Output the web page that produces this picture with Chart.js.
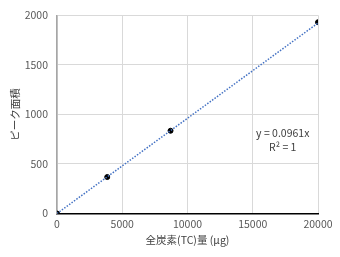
<!DOCTYPE html>
<html>
<head>
<meta charset="utf-8">
<script src="https://cdn.jsdelivr.net/npm/chart.js@4"></script>
<style>
  html, body { margin: 0; padding: 0; background: #fff; }
  #wrap { width: 340px; height: 257px; }
</style>
</head>
<body>
<div id="wrap"><canvas id="chart"></canvas></div>
<script>
// measured samples: carbon amount (µg) vs peak area
const carbonUg = [0, 3850, 8700, 20000]
const peakArea = [0, 368, 835, 1930]

// linear trendline end points (y = 0.0961x)
const trendX = [0, 20000]
const trendY = [0, 1922]

const xTicks = [0, 5000, 10000, 15000, 20000]
const yTicks = [0, 500, 1000, 1500, 2000]

const eqLines = ['y = 0.0961x', 'R² = 1']
const eqAnchor = [17300, 810]

const font = '"Noto Sans CJK JP", "Noto Sans", sans-serif'

const equationLabel = {
  id: 'equationLabel',
  afterDatasetsDraw(chart) {
    const { ctx, scales } = chart
    const x = scales.x.getPixelForValue(eqAnchor[0])
    const y = scales.y.getPixelForValue(eqAnchor[1])
    ctx.save()
    ctx.font = '10.5px ' + font
    ctx.fillStyle = '#404040'
    ctx.textAlign = 'center'
    ctx.textBaseline = 'middle'
    eqLines.forEach((line, i) => ctx.fillText(line, x, y + i * 14))
    ctx.restore()
  }
}

new Chart(document.getElementById('chart'), {
  type: 'scatter',
  data: {
    datasets: [
      {
        type: 'line',
        label: 'trend',
        data: trendX.map((x, i) => ({ x, y: trendY[i] })),
        borderColor: '#4472c4',
        borderWidth: 1.5,
        borderDash: [1.5, 1.5],
        pointRadius: 0,
        fill: false
      },
      {
        label: 'samples',
        data: carbonUg.map((x, i) => ({ x, y: peakArea[i] })),
        backgroundColor: '#000',
        borderColor: '#000',
        pointRadius: 2.5
      }
    ]
  },
  options: {
    responsive: true,
    maintainAspectRatio: false,
    animation: false,
    layout: { padding: { left: 0, right: 22, top: 10, bottom: 0 } },
    plugins: {
      legend: { display: false },
      tooltip: { enabled: false }
    },
    scales: {
      x: {
        type: 'linear',
        min: 0,
        max: 20000,
        afterBuildTicks: s => { s.ticks = xTicks.map(v => ({ value: v })) },
        afterFit: s => { s.height = 43.5 },
        grid: { color: '#d9d9d9', drawTicks: false },
        border: { color: '#000', width: 1.5 },
        ticks: {
          color: '#595959',
          padding: 4,
          font: { family: font, size: 10.5 },
          callback: v => String(v)
        },
        title: {
          display: true,
          text: '全炭素(TC)量 (μg)',
          color: '#404040',
          font: { family: font, size: 10.5 },
          padding: { top: 0, bottom: 11 }
        }
      },
      y: {
        type: 'linear',
        min: 0,
        max: 2000,
        afterBuildTicks: s => { s.ticks = yTicks.map(v => ({ value: v })) },
        afterFit: s => { s.width = 57 },
        grid: { color: '#d9d9d9', drawTicks: false },
        border: { color: '#a6a6a6', width: 1.5 },
        ticks: {
          color: '#595959',
          padding: 9,
          font: { family: font, size: 10.5 },
          callback: v => String(v)
        },
        title: {
          display: true,
          text: 'ピーク面積',
          color: '#404040',
          font: { family: font, size: 10.5 },
          padding: { top: 9, bottom: 0 }
        }
      }
    }
  },
  plugins: [equationLabel]
})
</script>
</body>
</html>
